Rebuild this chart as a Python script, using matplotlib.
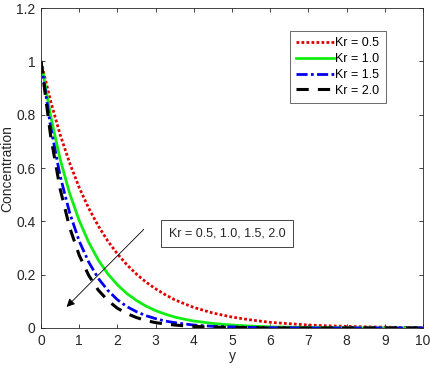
import matplotlib
matplotlib.use("Agg")
import matplotlib.pyplot as plt

plt.rcParams['font.family'] = ['Liberation Sans', 'DejaVu Sans']

y_pos = [0, 0.25, 0.5, 0.75, 1.0, 1.25, 1.5, 1.75, 2.0, 2.25, 2.5, 2.75, 3.0,
         3.25, 3.5, 3.75, 4.0, 4.5, 5.0, 5.5, 6.0, 6.5, 7.0, 7.5, 8.0, 8.5,
         9.0, 9.5, 10.0]

conc_kr05 = [1.000, 0.852, 0.726, 0.619, 0.527, 0.449, 0.383, 0.326, 0.278,
             0.237, 0.202, 0.172, 0.147, 0.125, 0.106, 0.091, 0.077, 0.056,
             0.041, 0.030, 0.021, 0.016, 0.011, 0.008, 0.006, 0.004, 0.003,
             0.002, 0.002]
conc_kr10 = [1.000, 0.797, 0.634, 0.505, 0.403, 0.321, 0.255, 0.203, 0.162,
             0.129, 0.103, 0.082, 0.065, 0.052, 0.041, 0.033, 0.026, 0.017,
             0.011, 0.007, 0.004, 0.003, 0.002, 0.001, 0.001, 0.000, 0.000,
             0.000, 0.000]
conc_kr15 = [1.000, 0.756, 0.571, 0.432, 0.326, 0.247, 0.186, 0.141, 0.106,
             0.080, 0.061, 0.046, 0.035, 0.026, 0.020, 0.015, 0.011, 0.006,
             0.004, 0.002, 0.001, 0.001, 0.000, 0.000, 0.000, 0.000, 0.000,
             0.000, 0.000]
conc_kr20 = [1.000, 0.723, 0.522, 0.377, 0.273, 0.197, 0.142, 0.103, 0.074,
             0.054, 0.039, 0.028, 0.020, 0.015, 0.011, 0.008, 0.006, 0.003,
             0.002, 0.001, 0.000, 0.000, 0.000, 0.000, 0.000, 0.000, 0.000,
             0.000, 0.000]

labels = ['Kr = 0.5', 'Kr = 1.0', 'Kr = 1.5', 'Kr = 2.0']
x_ticks = [0, 1, 2, 3, 4, 5, 6, 7, 8, 9, 10]
y_ticks = [0, 0.2, 0.4, 0.6, 0.8, 1.0, 1.2]
y_tick_labels = ['0', '0.2', '0.4', '0.6', '0.8', '1', '1.2']

fig = plt.figure(figsize=(4.33, 3.71), dpi=100)
ax = fig.add_axes([0.0947, 0.116, 0.882, 0.862])

ax.plot(y_pos, conc_kr05, color='#e00000', linestyle=(0, (1, 0.8)), lw=2.0, label=labels[0])
ax.plot(y_pos, conc_kr10, color='#11ee11', linestyle='-', lw=2.0, label=labels[1])
ax.plot(y_pos, conc_kr15, color='#0000ee', linestyle=(0, (4, 1.2, 1, 1.2)), lw=2.0, label=labels[2])
ax.plot(y_pos, conc_kr20, color='black', linestyle=(0, (4, 3)), lw=2.2, label=labels[3])

ax.set_xlim(0, 10)
ax.set_ylim(0, 1.2)
ax.set_xticks(x_ticks)
ax.set_yticks(y_ticks)
ax.set_yticklabels(y_tick_labels)
ax.tick_params(direction='in', top=True, right=True, labelsize=10,
               colors='#262626', length=3, width=0.6, pad=4)
for s in ax.spines.values():
    s.set_color('#262626')
    s.set_linewidth(0.6)
ax.set_xlabel('y', fontsize=10, color='#262626', labelpad=1)
ax.set_ylabel('Concentration', fontsize=10, color='#262626', labelpad=1)

leg = ax.legend(loc='upper right', bbox_to_anchor=(0.903, 0.928), fontsize=9,
                frameon=True, fancybox=False, handlelength=3.0,
                handletextpad=0.15, borderpad=0.5, labelspacing=0.3,
                borderaxespad=0)
leg.get_frame().set_edgecolor('#262626')
leg.get_frame().set_linewidth(0.6)

ax.annotate('', xy=(0.67, 0.079), xytext=(2.69, 0.37),
            arrowprops=dict(arrowstyle='-|>', color='black', lw=0.6,
                            mutation_scale=12, shrinkA=0, shrinkB=0))
ax.text(3.35, 0.356, 'Kr = 0.5, 1.0, 1.5, 2.0', fontsize=9, color='#262626',
        va='center', ha='left',
        bbox=dict(boxstyle='square,pad=0.6', facecolor='white',
                  edgecolor='#262626', linewidth=0.6))

fig.savefig('out.png', dpi=100)
